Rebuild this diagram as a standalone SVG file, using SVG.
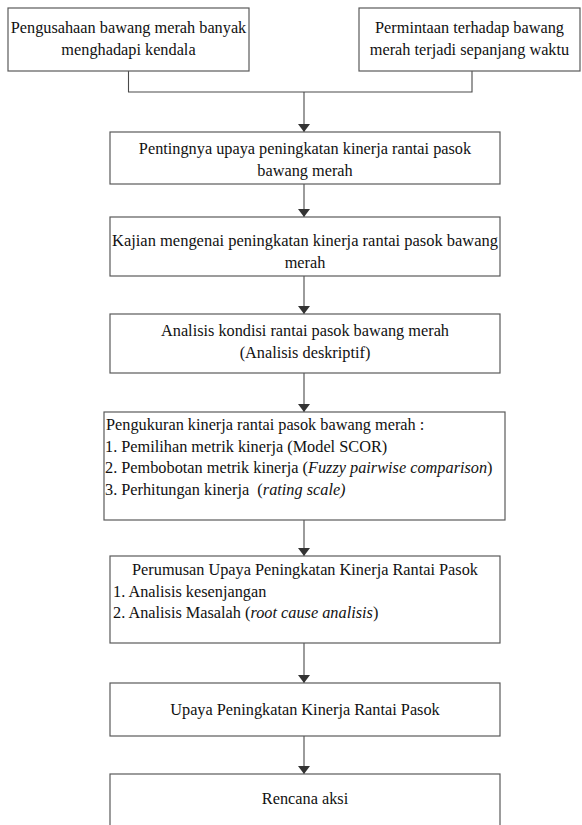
<svg xmlns="http://www.w3.org/2000/svg" width="582" height="825" viewBox="0 0 582 825">
  <style>
    .box { fill: #ffffff; stroke: #5a5a5a; stroke-width: 1.2; }
    .t { font-family: "Liberation Serif", "Times New Roman", serif; font-size: 16.3px; fill: #111111; }
    .c { text-anchor: middle; }
    .i { font-style: italic; }
    .link { fill: none; stroke: #4a4a4a; stroke-width: 1.1; }
  </style>
  <defs>
    <marker id="arrow" viewBox="0 0 8 12" refX="8" refY="6" markerWidth="8" markerHeight="12" orient="auto-start-reverse" markerUnits="userSpaceOnUse">
      <path d="M0,0 L8,6 L0,12 Z" fill="#333333"/>
    </marker>
  </defs>
  <rect width="582" height="825" fill="#ffffff"/>

  <!-- connectors -->
  <g id="connectors">
    <polyline class="link" points="128.5,71 128.5,92 472,92 472,71"/>
    <line class="link" x1="304" y1="92" x2="304" y2="132" marker-end="url(#arrow)"/>
    <line class="link" x1="304" y1="184" x2="304" y2="217" marker-end="url(#arrow)"/>
    <line class="link" x1="304" y1="276" x2="304" y2="314" marker-end="url(#arrow)"/>
    <line class="link" x1="304" y1="373" x2="304" y2="412" marker-end="url(#arrow)"/>
    <line class="link" x1="304" y1="520" x2="304" y2="556" marker-end="url(#arrow)"/>
    <line class="link" x1="304" y1="643" x2="304" y2="683" marker-end="url(#arrow)"/>
    <line class="link" x1="304" y1="736" x2="304" y2="774" marker-end="url(#arrow)"/>
  </g>

  <g id="kendala">
    <rect class="box" x="8" y="8" width="241" height="63"/>
    <text class="t c" x="128.5" y="33">Pengusahaan bawang merah banyak</text>
    <text class="t c" x="128.5" y="55">menghadapi kendala</text>
  </g>

  <g id="permintaan">
    <rect class="box" x="359" y="8" width="221" height="63"/>
    <text class="t c" x="469.5" y="33">Permintaan terhadap bawang</text>
    <text class="t c" x="469.5" y="55">merah terjadi sepanjang waktu</text>
  </g>

  <g id="pentingnya">
    <rect class="box" x="110" y="132" width="390" height="52"/>
    <text class="t c" x="305" y="154">Pentingnya upaya peningkatan kinerja rantai pasok</text>
    <text class="t c" x="305" y="176">bawang merah</text>
  </g>

  <g id="kajian">
    <rect class="box" x="110" y="217" width="390" height="59"/>
    <text class="t c" x="305" y="246" textLength="386" lengthAdjust="spacingAndGlyphs">Kajian mengenai peningkatan kinerja rantai pasok bawang</text>
    <text class="t c" x="305" y="268">merah</text>
  </g>

  <g id="analisis-kondisi">
    <rect class="box" x="110" y="314" width="390" height="59"/>
    <text class="t c" x="305" y="336">Analisis kondisi rantai pasok bawang merah</text>
    <text class="t c" x="305" y="358">(Analisis deskriptif)</text>
  </g>

  <g id="pengukuran">
    <rect class="box" x="104" y="412" width="401" height="108"/>
    <text class="t" x="106" y="430">Pengukuran kinerja rantai pasok bawang merah :</text>
    <text class="t" x="105" y="452">1. Pemilihan metrik kinerja (Model SCOR)</text>
    <text class="t" x="105" y="473">2. Pembobotan metrik kinerja (<tspan class="i">Fuzzy pairwise comparison</tspan>)</text>
    <text class="t" x="105" y="495">3. Perhitungan kinerja&#160; (<tspan class="i">rating scale)</tspan></text>
  </g>

  <g id="perumusan">
    <rect class="box" x="110" y="556" width="390" height="87"/>
    <text class="t c" x="305" y="575">Perumusan Upaya Peningkatan Kinerja Rantai Pasok</text>
    <text class="t" x="113" y="597">1. Analisis kesenjangan</text>
    <text class="t" x="113" y="618">2. Analisis Masalah (<tspan class="i">root cause analisis</tspan>)</text>
  </g>

  <g id="upaya">
    <rect class="box" x="110" y="683" width="390" height="53"/>
    <text class="t c" x="305" y="715">Upaya Peningkatan Kinerja Rantai Pasok</text>
  </g>

  <g id="rencana">
    <rect class="box" x="110" y="774" width="390" height="80"/>
    <text class="t c" x="305" y="804">Rencana aksi</text>
  </g>
</svg>
